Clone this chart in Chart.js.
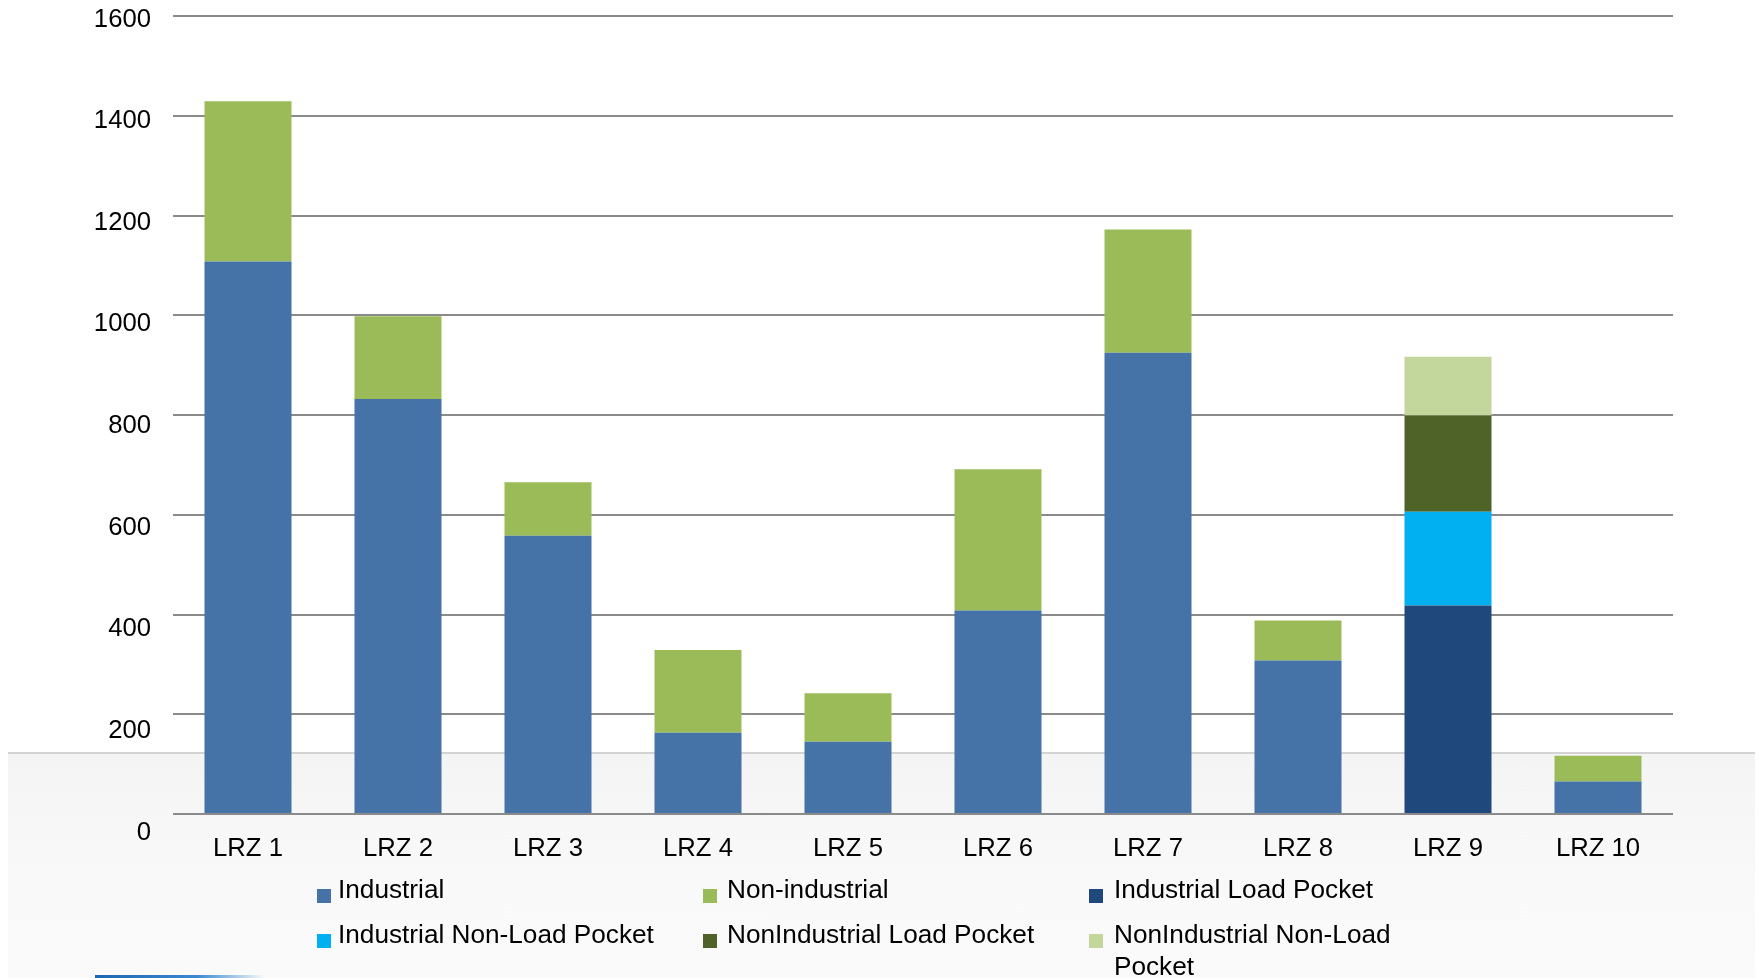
<!DOCTYPE html>
<html>
<head>
<meta charset="utf-8">
<title>LRZ capacity by customer type</title>
<script src="https://cdn.jsdelivr.net/npm/chart.js@4/dist/chart.umd.min.js"></script>
<style>
  html, body { margin: 0; padding: 0; background: #ffffff; }
  body { width: 1759px; height: 978px; position: relative; overflow: hidden;
         font-family: "Liberation Sans", Arial, sans-serif; }
  #band { position: absolute; left: 8px; top: 752px; width: 1747px; height: 226px;
          border-top: 2px solid #d3d3d3;
          background: linear-gradient(to bottom, #f4f4f4 0%, #f9f9f9 55%, #fafafa 100%); }
  #strip { position: absolute; left: 95px; top: 975px; width: 170px; height: 3px;
           background: linear-gradient(to right, #1a66b0 0%, #3a8ad0 60%, rgba(120,180,230,0) 100%); }
  #chart { position: absolute; left: 0; top: 0; }
  #legend { position: absolute; left: 317px; top: 873px;
            display: grid; grid-template-columns: 386px 386px 311px; row-gap: 13px;
            font-size: 26.2px; line-height: 32px; color: #000; }
  .item { display: flex; align-items: flex-start; }
  .swatch { width: 14px; height: 14px; margin-top: 16px; margin-right: 7px; flex-shrink: 0; }
  .item:nth-child(3n+2) .swatch { margin-right: 10px; }
  .item:nth-child(3n) .swatch { margin-right: 11px; }
</style>
</head>
<body>
<div id="band"></div>
<div id="strip"></div>
<canvas id="chart" width="1759" height="978"></canvas>
<div id="legend"></div>
<script>
// Zones along the x axis
const categories = ['LRZ 1', 'LRZ 2', 'LRZ 3', 'LRZ 4', 'LRZ 5', 'LRZ 6', 'LRZ 7', 'LRZ 8', 'LRZ 9', 'LRZ 10'];

// Stacked components per zone
const industrial                 = [1108, 832, 558, 163, 145, 408, 925, 308, null, 65];
const nonIndustrial              = [321, 166, 107, 166, 97, 283, 247, 80, null, 52];
const industrialLoadPocket       = [null, null, null, null, null, null, null, null, 418, null];
const industrialNonLoadPocket    = [null, null, null, null, null, null, null, null, 188, null];
const nonIndustrialLoadPocket    = [null, null, null, null, null, null, null, null, 193, null];
const nonIndustrialNonLoadPocket = [null, null, null, null, null, null, null, null, 118, null];

// Value axis tick labels
const yTicks = [0, 200, 400, 600, 800, 1000, 1200, 1400, 1600];

const seriesNames = ['Industrial', 'Non-industrial', 'Industrial Load Pocket',
                     'Industrial Non-Load Pocket', 'NonIndustrial Load Pocket', 'NonIndustrial Non-Load Pocket'];
const seriesData = [industrial, nonIndustrial, industrialLoadPocket,
                    industrialNonLoadPocket, nonIndustrialLoadPocket, nonIndustrialNonLoadPocket];
const seriesColors = ['#4573A7', '#9BBB59', '#1F497D', '#00B0F0', '#4F6228', '#C3D69B'];

const FONT = "'Liberation Sans', Arial, sans-serif";

// keep axis labels from pushing the plot area inward
function noPad(s) { s.paddingTop = 0; s.paddingBottom = 0; s.paddingLeft = 0; s.paddingRight = 0; }

const chart = new Chart(document.getElementById('chart'), {
  type: 'bar',
  data: {
    labels: categories,
    datasets: seriesNames.map((name, i) => ({
      label: name,
      data: seriesData[i],
      backgroundColor: seriesColors[i],
      borderWidth: 0,
      barPercentage: 0.58,
      categoryPercentage: 1.0,
      yAxisID: 'y'
    }))
  },
  options: {
    responsive: false,
    devicePixelRatio: 1,
    animation: false,
    layout: { padding: { left: 0, right: 86, top: 16, bottom: 0 } },
    plugins: { legend: { display: false }, tooltip: { enabled: false } },
    scales: {
      x: {
        stacked: true,
        grid: { display: false },
        border: { display: false },
        ticks: { color: '#000', font: { family: FONT, size: 25.7 }, padding: 11,
                 maxRotation: 0, autoSkip: false },
        afterFit: s => { s.height = 164; noPad(s); }
      },
      y: {
        stacked: true,
        min: 0,
        max: 1600,
        position: 'left',
        grid: { color: '#8a8a8a', lineWidth: 2, drawTicks: false },
        border: { display: false },
        ticks: { display: false, stepSize: 200 },
        afterFit: s => { s.width = 0; noPad(s); }
      },
      yl: {
        position: 'left',
        min: 36.3,
        max: 1606.9,
        grid: { display: false, drawTicks: false },
        border: { display: false },
        ticks: { color: '#000', font: { family: FONT, size: 25.7 }, padding: 22, autoSkip: false,
                 callback: v => String(v) },
        afterBuildTicks: s => { s.ticks = yTicks.map(v => ({ value: v })); },
        afterFit: s => { s.width = 173; noPad(s); }
      }
    }
  }
});

// Legend built from the chart's datasets
const legend = document.getElementById('legend');
chart.data.datasets.forEach(ds => {
  const item = document.createElement('div');
  item.className = 'item';
  const sw = document.createElement('span');
  sw.className = 'swatch';
  sw.style.background = ds.backgroundColor;
  const tx = document.createElement('span');
  tx.textContent = ds.label;
  item.appendChild(sw);
  item.appendChild(tx);
  legend.appendChild(item);
});
</script>
</body>
</html>
